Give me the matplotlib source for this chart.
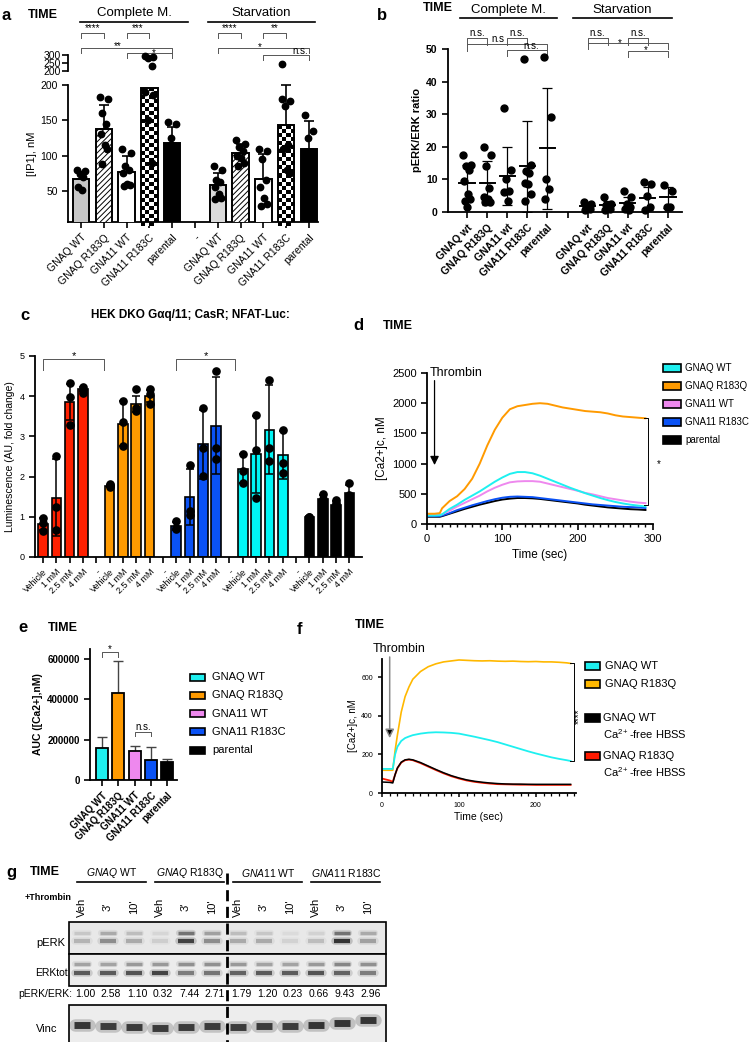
import matplotlib.pyplot as plt
import numpy as np
from matplotlib.patches import Rectangle
from matplotlib.lines import Line2D
from matplotlib.ticker import MultipleLocator

plt.rcParams['font.family'] = ['Liberation Sans', 'DejaVu Sans']
plt.rcParams['mathtext.fontset'] = 'custom'
plt.rcParams['mathtext.rm'] = 'Liberation Sans'
plt.rcParams['mathtext.it'] = 'Liberation Sans:italic'
plt.rcParams['mathtext.bf'] = 'Liberation Sans:bold'
plt.rcParams['hatch.linewidth'] = 0.7
plt.rcParams['axes.linewidth'] = 1.3

# ============================================================================
# DATA
# ============================================================================
# --- a: IP1 ---
a_labels = ['GNAQ WT', 'GNAQ R183Q', 'GNA11 WT', 'GNA11 R183C', 'parental']
a_cm_mean = [67, 138, 77, 196, 118]
a_cm_err = [10, 33, 22, 0, 22]
a_st_mean = [59, 104, 67, 143, 109]
a_st_err = [17, 13, 35, 57, 40]
a_cm_pts = [[80, 78, 74, 70, 56, 52],
            [183, 180, 160, 145, 130, 115, 110, 88],
            [110, 104, 85, 80, 76, 60, 58, 57],
            [190, 186, 150, 90],
            [148, 145, 125]]
a_st_pts = [[85, 80, 65, 62, 55, 45, 40, 38],
            [122, 116, 112, 106, 100, 96, 90, 86],
            [110, 106, 95, 65, 55, 40, 32, 28],
            [180, 178, 170, 115, 110, 80, 76],
            [158, 135, 125]]
a_cm_pts_high = [[], [], [], [292, 290, 282, 232], []]
a_st_pts_high = [[], [], [], [243], []]

# --- b: pERK/ERK ratio ---
b_labels = ['GNAQ wt', 'GNAQ R183Q', 'GNA11 wt', 'GNA11 R183C', 'parental']
b_cm_mean = [9.0, 8.8, 11.0, 14.0, 19.5]
b_cm_sd = [5.5, 6.8, 9.0, 14.0, 18.5]
b_st_mean = [1.8, 2.0, 2.8, 4.2, 4.5]
b_st_sd = [1.2, 1.3, 1.8, 3.5, 3.2]
b_cm_pts = [[17.5, 14.5, 14, 13, 9.5, 5.5, 4, 3.5, 1.5],
            [20, 17.5, 14, 7.5, 4.5, 4, 3, 3],
            [32, 13, 10, 6.5, 6, 3.5],
            [47, 14.5, 12.5, 12, 9, 8.5, 5.5, 3.5],
            [47.5, 29, 10, 7, 4]]
b_st_pts = [[3.2, 2.5, 1.5, 0.8, 0.5],
            [4.5, 2.5, 2, 1, 0.5],
            [6.5, 4.5, 2.5, 1.5, 1, 0.5],
            [9.2, 8.5, 4.8, 1.5, 0.5],
            [8.2, 6.5, 1.5, 1.5]]

# --- c: NFAT luciferase ---
c_doses = ['Vehicle', '1 mM', '2.5 mM', '4 mM']
c_colors = ['#ff2000', '#ff9a00', '#0a52f5', '#00f5f5', '#000000']
c_mean = [[0.83, 1.48, 3.85, 4.17],
          [1.77, 3.32, 3.80, 4.00],
          [0.77, 1.50, 2.80, 3.27],
          [2.20, 2.55, 3.17, 2.53],
          [1.00, 1.45, 1.30, 1.60]]
c_sd = [[0.15, 0.95, 0.45, 0.05],
        [0.03, 0.55, 0.20, 0.15],
        [0.10, 0.70, 0.85, 1.20],
        [0.35, 0.95, 1.10, 0.60],
        [0.02, 0.10, 0.10, 0.20]]
c_pts = [[[0.97, 0.85, 0.65], [2.50, 1.25, 0.68], [4.32, 3.98, 3.28], [4.22, 4.15, 4.08]],
         [[1.82, 1.78, 1.75], [3.88, 3.35, 2.75], [4.17, 3.70, 3.62], [4.18, 4.05, 3.80]],
         [[0.90, 0.72, 0.70], [2.28, 1.15, 1.05], [3.70, 2.70, 2.02], [4.62, 2.72, 2.45]],
         [[2.57, 2.15, 1.85], [3.52, 2.67, 1.48], [4.40, 2.70, 2.40], [3.15, 2.35, 2.10]],
         [[1.00, 1.00, 0.98], [1.57, 1.45, 1.40], [1.42, 1.35, 1.30], [1.85, 1.55, 1.50]]]

# --- d: Ca2+ traces, complete medium ---
d_names = ['GNAQ WT', 'GNAQ R183Q', 'GNA11 WT', 'GNA11 R183C', 'parental']
d_colors = ['#1ef0f0', '#ff9a00', '#ee88ee', '#0a52f5', '#000000']
d_t = [0, 10, 17, 20, 30, 40, 50, 60, 70, 80, 90, 100, 110, 120, 130, 140, 150,
       160, 170, 180, 190, 200, 210, 220, 230, 240, 250, 260, 270, 280, 290]
d_gnaq_wt = [140, 140, 145, 160, 250, 320, 400, 470, 540, 620, 700, 770, 830, 860, 860, 840,
             800, 750, 700, 650, 600, 555, 510, 470, 430, 395, 365, 340, 320, 305, 290]
d_gnaq_mut = [170, 170, 180, 260, 380, 460, 580, 750, 1000, 1300, 1560, 1760, 1900, 1950, 1970,
              1990, 2000, 1990, 1960, 1930, 1910, 1890, 1870, 1860, 1850, 1830, 1800, 1780,
              1770, 1760, 1750]
d_gna11_wt = [150, 150, 150, 160, 220, 290, 350, 410, 470, 540, 600, 650, 690, 705, 710, 710,
              700, 670, 640, 610, 580, 550, 515, 490, 460, 430, 410, 390, 370, 355, 345]
d_gna11_mut = [130, 130, 130, 140, 180, 230, 270, 310, 345, 380, 410, 435, 450, 455, 450, 445,
               430, 415, 400, 385, 370, 355, 340, 325, 315, 305, 295, 285, 280, 275, 265]
d_parental = [120, 120, 120, 130, 170, 210, 250, 285, 320, 350, 380, 405, 420, 430, 430, 425,
              415, 400, 385, 370, 355, 340, 320, 305, 290, 275, 265, 255, 245, 240, 232]

# --- e: AUC ---
e_labels = ['GNAQ WT', 'GNAQ R183Q', 'GNA11 WT', 'GNA11 R183C', 'parental']
e_mean = [160000, 430000, 145000, 100000, 90000]
e_err = [55000, 160000, 23000, 65000, 12000]

# --- f: Ca2+ traces, Ca2+-free HBSS ---
f_names = ['GNAQ WT', 'GNAQ R183Q', 'GNAQ WT\nCa$^{2+}$-free HBSS', 'GNAQ R183Q\nCa$^{2+}$-free HBSS']
f_colors = ['#1ef0f0', '#ffb800', '#000000', '#ff1a00']
f_t = [0, 10, 14, 17, 20, 25, 30, 35, 40, 50, 60, 70, 80, 90, 100, 110, 120, 130, 140, 150,
       160, 170, 180, 190, 200, 210, 220, 230, 240, 245]
f_wt = [125, 125, 125, 200, 240, 270, 285, 293, 300, 308, 313, 315, 314, 312, 308, 300, 292,
        283, 274, 264, 252, 240, 228, 216, 205, 195, 185, 177, 170, 166]
f_mut = [118, 118, 118, 220, 300, 420, 500, 550, 590, 630, 655, 670, 680, 685, 690, 688, 686,
         685, 686, 684, 683, 684, 682, 681, 682, 680, 680, 678, 675, 672]
f_wt_free = [57, 55, 52, 95, 130, 160, 172, 175, 172, 158, 140, 122, 105, 90, 78, 68, 61, 56,
             52, 49, 47, 46, 46, 45, 45, 45, 45, 45, 45, 45]
f_mut_free = [75, 65, 58, 95, 128, 158, 170, 173, 170, 155, 137, 119, 102, 87, 75, 65, 58, 53,
              49, 46, 45, 44, 43, 43, 42, 42, 42, 42, 42, 42]

# --- g: western blot ---
g_groups = [r'$\mathit{GNAQ}$ WT', r'$\mathit{GNAQ}$ R183Q', r'$\mathit{GNA11}$ WT', r'$\mathit{GNA11}$ R183C']
g_lanes = ['Veh', "3'", "10'"] * 4
g_ratio = [1.00, 2.58, 1.10, 0.32, 7.44, 2.71, 1.79, 1.20, 0.23, 0.66, 9.43, 2.96]
g_perk_low = [0.25, 0.45, 0.30, 0.12, 0.90, 0.45, 0.30, 0.30, 0.10, 0.20, 1.00, 0.35]
g_perk_up = [0.15, 0.30, 0.20, 0.08, 0.60, 0.35, 0.20, 0.15, 0.06, 0.10, 0.60, 0.30]
g_erk_up = [0.35, 0.35, 0.40, 0.40, 0.45, 0.45, 0.40, 0.35, 0.35, 0.40, 0.50, 0.45]
g_erk_low = [0.75, 0.75, 0.80, 0.90, 0.55, 0.60, 0.70, 0.75, 0.75, 0.80, 0.70, 0.55]
g_vinc = [1.0, 0.95, 0.95, 0.95, 0.95, 0.95, 0.95, 0.95, 0.95, 1.0, 1.0, 1.0]
g_vinc_y = [1025, 1026, 1027, 1028, 1027, 1026, 1027, 1026, 1026, 1025, 1023, 1020]

# ============================================================================
# FIGURE / HELPERS (pixel layout, 754x1042)
# ============================================================================
W, H = 754, 1042
fig = plt.figure(figsize=(W / 100, H / 100), dpi=100)
fig.patch.set_facecolor('white')


def add_ax(x0, y0, x1, y1):
    return fig.add_axes([x0 / W, 1 - y1 / H, (x1 - x0) / W, (y1 - y0) / H])


def ftext(x, y, s, **kw):
    kw.setdefault('va', 'center')
    return fig.text(x / W, 1 - y / H, s, **kw)


def fline(x0, x1, y, lw=1.2):
    fig.add_artist(Line2D([x0 / W, x1 / W], [1 - y / H, 1 - y / H], color='black', lw=lw))


def fpatch(x, y, w, h, color):
    fig.add_artist(Rectangle((x / W, 1 - (y + h / 2) / H), w / W, h / H,
                             transform=fig.transFigure, fc=color, ec='black', lw=1.2))


def bracket(ax, x0, x1, y, label, drop=0.035, tx=None, fs=7, dy=0.0, color='#555555'):
    tr = ax.get_xaxis_transform()
    ax.plot([x0, x0, x1, x1], [y - drop, y, y, y - drop], transform=tr,
            color=color, lw=0.7, clip_on=False)
    tx = (x0 + x1) / 2 if tx is None else tx
    ax.text(tx, y + dy, label, transform=tr, ha='center', va='bottom',
            fontsize=fs, clip_on=False)


def style_axes(ax, fs=7.5, bold=False):
    ax.spines['top'].set_visible(False)
    ax.spines['right'].set_visible(False)
    ax.tick_params(axis='both', direction='out', length=4, width=1.2, labelsize=fs)
    if bold:
        for t in ax.get_yticklabels():
            t.set_fontweight('bold')


offs = [-0.18, 0.18, -0.06, 0.1, -0.14, 0.04, 0.16, -0.1, 0.0]

# ============================================================================
# PANEL a
# ============================================================================
ax_a = add_ax(68, 85, 318, 222)
ax_a2 = add_ax(68, 55, 318, 71)
a_xlim = (-0.57, 10.4)
a_fill = [['#c6c6c6', 'white', 'white', 'none', 'black'],
          ['#dadada', 'white', 'white', 'none', 'black']]
a_hatch = [None, '//////', None, None, None]
px_per_unit = 137 / 194.0
for gi, (means, errs, pts, high, start) in enumerate(
        [(a_cm_mean, a_cm_err, a_cm_pts, a_cm_pts_high, 0),
         (a_st_mean, a_st_err, a_st_pts, a_st_pts_high, 6)]):
    for i in range(5):
        p = start + i
        bar = ax_a.bar(p, means[i], width=0.72, color=a_fill[gi][i], edgecolor='black',
                       linewidth=1.4, hatch=a_hatch[i], zorder=3)[0]
        if i == 3:
            ny = int(round(means[i] * px_per_unit / 4.0))
            chk = np.add.outer(np.arange(ny), np.arange(4)) % 2
            im = ax_a.imshow(chk, cmap='gray', extent=(p - 0.36, p + 0.36, 0, means[i]),
                             origin='lower', aspect='auto', interpolation='nearest', zorder=2)
            im.set_clip_path(bar)
        if errs[i] > 0:
            ax_a.errorbar(p, means[i], yerr=[[0], [errs[i]]], fmt='none', ecolor='black',
                          elinewidth=1.2, capsize=3.5, capthick=1.2, zorder=4, clip_on=False)
        ax_a.plot(p + np.array(offs[:len(pts[i])]), pts[i], 'o', color='black', ms=4.6,
                  zorder=5, clip_on=False)
        if high[i]:
            ax_a2.plot(p + np.array(offs[:len(high[i])]), high[i], 'o', color='black', ms=4.6,
                       zorder=5, clip_on=False)
ax_a.set_xlim(*a_xlim)
ax_a.set_ylim(6, 200)
ax_a.set_yticks([50, 100, 150, 200])
ax_a.set_xticks(range(11))
ax_a.set_xticklabels(a_labels + ['-'] + a_labels, rotation=45, ha='right',
                     rotation_mode='anchor', fontsize=7.5)
ax_a.set_ylabel('[IP1], nM', fontsize=8, labelpad=2)
style_axes(ax_a)
ax_a2.set_xlim(*a_xlim)
ax_a2.set_ylim(200, 300)
ax_a2.set_yticks([200, 250, 300])
ax_a2.set_xticks([])
for s in ['top', 'right', 'bottom']:
    ax_a2.spines[s].set_visible(False)
ax_a2.tick_params(axis='y', length=4, width=1.2, labelsize=7.5, pad=1)
ax_a2.patch.set_alpha(0)

bracket(ax_a, 0, 1, 1.38, '****')
bracket(ax_a, 2, 3, 1.38, '***')
bracket(ax_a, 0, 4, 1.27, '**', tx=1.6, dy=-0.02)
bracket(ax_a, 2, 4, 1.23, '*', tx=3.2, dy=-0.03)
bracket(ax_a, 6, 7, 1.38, '****')
bracket(ax_a, 8, 9, 1.38, '**')
bracket(ax_a, 6, 10, 1.27, '*', tx=7.85, dy=-0.03)
bracket(ax_a, 8, 10, 1.22, 'n.s.', tx=9.6, dy=-0.01)

ftext(2, 15, 'a', fontsize=12, fontweight='bold')
ftext(28, 15, 'TIME', fontsize=9, fontweight='bold')
ftext(134, 13, 'Complete M.', fontsize=9.5, ha='center')
fline(80, 188, 22)
ftext(261, 13, 'Starvation', fontsize=9.5, ha='center')
fline(208, 315, 22)

# ============================================================================
# PANEL b
# ============================================================================
ax_b = add_ax(448, 49, 682, 212)
for means, sds, pts, start in [(b_cm_mean, b_cm_sd, b_cm_pts, 0),
                               (b_st_mean, b_st_sd, b_st_pts, 6)]:
    for i in range(5):
        p = start + i
        ax_b.plot(p + np.array(offs[:len(pts[i])]), pts[i], 'o', color='black', ms=5,
                  zorder=3, clip_on=False)
        ax_b.plot([p - 0.38, p + 0.38], [means[i], means[i]], color='black', lw=1.4, zorder=4)
        lo = max(means[i] - sds[i], 0)
        ax_b.errorbar(p, means[i], yerr=[[means[i] - lo], [sds[i]]], fmt='none',
                      ecolor='black', elinewidth=0.9, capsize=3.5, capthick=0.9, zorder=4)
ax_b.set_xlim(-0.95, 10.7)
ax_b.set_ylim(0, 50)
ax_b.set_yticks(range(0, 51, 10))
ax_b.set_xticks(range(11))
ax_b.set_xticklabels(b_labels + [''] + b_labels, rotation=45, ha='right',
                     rotation_mode='anchor', fontsize=7.5, fontweight='bold')
ax_b.set_ylabel('pERK/ERK ratio', fontsize=8, fontweight='bold', labelpad=3)
style_axes(ax_b, bold=True)

bracket(ax_b, 0, 1, 1.067, 'n.s.', drop=0.04)
bracket(ax_b, 2, 3, 1.067, 'n.s.', drop=0.04)
bracket(ax_b, 0, 4, 1.03, 'n.s', tx=1.55, drop=0.04, dy=0.0)
bracket(ax_b, 2, 4, 0.995, 'n.s.', tx=3.2, drop=0.04, dy=-0.01)
bracket(ax_b, 6, 7, 1.067, 'n.s.', drop=0.04)
bracket(ax_b, 8, 9, 1.067, 'n.s.', drop=0.04)
bracket(ax_b, 6, 10, 1.037, '*', tx=7.6, drop=0.04, dy=-0.03)
bracket(ax_b, 8, 10, 0.99, '*', tx=8.9, drop=0.04, dy=-0.03)

ftext(377, 15, 'b', fontsize=12, fontweight='bold')
ftext(423, 8, 'TIME', fontsize=9, fontweight='bold')
ftext(508, 10, 'Complete M.', fontsize=9.5, ha='center')
fline(460, 557, 18)
ftext(622, 10, 'Starvation', fontsize=9.5, ha='center')
fline(573, 672, 18)

# ============================================================================
# PANEL c
# ============================================================================
ax_c = add_ax(35, 356, 362, 557)
c_ticks, c_ticklabels = [], []
for g in range(5):
    for j in range(4):
        p = g * 5 + j
        ax_c.bar(p, c_mean[g][j], width=0.72, color=c_colors[g], edgecolor='black',
                 linewidth=1.2, zorder=2)
        ax_c.errorbar(p, c_mean[g][j], yerr=c_sd[g][j], fmt='none', ecolor='black',
                      elinewidth=1.1, capsize=3, capthick=1.1, zorder=3)
        ax_c.plot(p + np.array([0.0, 0.0, 0.0]), c_pts[g][j], 'o', color='black', ms=5.2,
                  zorder=4, clip_on=False)
        c_ticks.append(p)
        c_ticklabels.append(c_doses[j])
    if g < 4:
        c_ticks.append(g * 5 + 4)
        c_ticklabels.append('-')
ax_c.set_xlim(-0.6, 23.95)
ax_c.set_ylim(0, 5)
ax_c.set_yticks(range(6))
ax_c.set_xticks(c_ticks)
ax_c.set_xticklabels(c_ticklabels, rotation=45, ha='right', rotation_mode='anchor',
                     fontsize=6.5)
ax_c.set_ylabel('Luminescence (AU, fold change)', fontsize=7.5, labelpad=3)
style_axes(ax_c, fs=6.5)
bracket(ax_c, 0, 4.6, 0.985, '*', drop=0.055, fs=8, dy=-0.01)
bracket(ax_c, 10, 14.4, 0.985, '*', drop=0.055, fs=8, dy=-0.01)

ftext(20, 315, 'c', fontsize=12, fontweight='bold')
ftext(190, 315, 'HEK DKO G\u03b1q/11; CasR; NFAT-Luc:', fontsize=8.5, fontweight='bold',
      ha='center')

# ============================================================================
# PANEL d
# ============================================================================
ax_d = add_ax(427, 373, 653, 524)
for y, c in zip([d_parental, d_gna11_mut, d_gna11_wt, d_gnaq_wt, d_gnaq_mut],
                [d_colors[4], d_colors[3], d_colors[2], d_colors[0], d_colors[1]]):
    ax_d.plot(d_t, y, color=c, lw=1.4)
ax_d.set_xlim(0, 300)
ax_d.set_ylim(0, 2500)
ax_d.set_xticks([0, 100, 200, 300])
ax_d.xaxis.set_minor_locator(MultipleLocator(10))
ax_d.set_yticks(range(0, 2501, 500))
style_axes(ax_d, fs=8)
ax_d.tick_params(axis='x', which='minor', length=2.5, width=1)
ax_d.set_xlabel('Time (sec)', fontsize=8.5, labelpad=3)
ax_d.set_ylabel('[Ca2+]c, nM', fontsize=8.5, labelpad=3)
ax_d.annotate('', xy=(10, 930), xytext=(10, 2420),
              arrowprops=dict(arrowstyle='-|>', color='black', lw=0.9, mutation_scale=13))
ax_d.text(3, 2500, 'Thrombin', fontsize=9, ha='left', va='center')
ax_d.plot([288, 294, 294, 288], [d_gnaq_mut[-1], d_gnaq_mut[-1], d_gna11_wt[-1] - 30,
                                 d_gna11_wt[-1] - 30], color='black', lw=0.7, clip_on=False)
ax_d.text(307, 1000, '*', fontsize=7, ha='center', va='center')
for k, (n, c) in enumerate(zip(d_names, d_colors)):
    y = 368 + 18 * k
    fpatch(663, y, 18, 8, c)
    ftext(685, y, n, fontsize=7)

ftext(353, 325, 'd', fontsize=12, fontweight='bold')
ftext(383, 326, 'TIME', fontsize=9, fontweight='bold')

# ============================================================================
# PANEL e
# ============================================================================
ax_e = add_ax(90, 649, 177, 780)
for i in range(5):
    ax_e.bar(i, e_mean[i], width=0.72, color=d_colors[i], edgecolor='black',
             linewidth=1.3, zorder=2)
    ax_e.errorbar(i, e_mean[i], yerr=[[0], [e_err[i]]], fmt='none', ecolor='#444444',
                  elinewidth=1.0, capsize=3.5, capthick=1.0, zorder=1)
ax_e.set_xlim(-0.74, 4.6)
ax_e.set_ylim(0, 650000)
ax_e.set_yticks([0, 200000, 400000, 600000])
ax_e.set_xticks(range(5))
ax_e.set_xticklabels(e_labels, rotation=45, ha='right', rotation_mode='anchor',
                     fontsize=7, fontweight='bold')
ax_e.set_ylabel('AUC ([Ca2+],nM)', fontsize=7.5, fontweight='bold', labelpad=3)
style_axes(ax_e, fs=7, bold=True)
bracket(ax_e, 0, 1, 0.975, '*', drop=0.035, fs=7, dy=-0.01)
bracket(ax_e, 2, 3, 0.37, 'n.s.', drop=0.035, fs=7, dy=0.0)
for k, (n, c) in enumerate(zip(d_names, d_colors)):
    y = 677 + 18.3 * k
    fpatch(190, y, 15, 7, c)
    ftext(212, y, n, fontsize=8)

ftext(18, 628, 'e', fontsize=12, fontweight='bold')
ftext(48, 628, 'TIME', fontsize=9, fontweight='bold')

# ============================================================================
# PANEL f
# ============================================================================
ax_f = add_ax(382, 659, 576, 793)
ax_f.plot(f_t, f_mut_free, color=f_colors[3], lw=1.3)
ax_f.plot(f_t, f_wt_free, color=f_colors[2], lw=1.1)
ax_f.plot(f_t, f_mut, color=f_colors[1], lw=1.2)
ax_f.plot(f_t, f_wt, color=f_colors[0], lw=1.3)
ax_f.set_xlim(0, 252)
ax_f.set_ylim(0, 695)
ax_f.set_xticks([0, 100, 200])
ax_f.xaxis.set_minor_locator(MultipleLocator(10))
ax_f.set_yticks([0, 200, 400, 600])
style_axes(ax_f, fs=5)
ax_f.tick_params(axis='both', length=3, width=1.1)
ax_f.tick_params(axis='x', which='minor', length=2, width=0.9)
ax_f.set_xlabel('Time (sec)', fontsize=7.5, labelpad=2)
ax_f.set_ylabel('[Ca2+]c, nM', fontsize=7, labelpad=2)
ax_f.annotate('', xy=(10, 270), xytext=(10, 720),
              arrowprops=dict(arrowstyle='-|>', ec='#888888', fc='black', lw=1.1,
                              mutation_scale=13), annotation_clip=False)
ax_f.text(-12, 745, 'Thrombin', fontsize=9, ha='left', va='center')
ax_f.plot([244, 249, 249, 244], [f_mut[-1], f_mut[-1], f_wt[-1], f_wt[-1]],
          color='black', lw=0.7, clip_on=False)
ax_f.text(256, 400, '****', fontsize=7, rotation=90, ha='center', va='center')
f_rows = [666, 684, 718, 756]
for k, (n, c) in enumerate(zip(f_names, f_colors)):
    fpatch(585, f_rows[k], 15, 8, c)
    if '\n' in n:
        ftext(603, f_rows[k] - 5, n, fontsize=8, va='top', linespacing=1.35)
    else:
        ftext(605, f_rows[k], n, fontsize=8)

ftext(297, 630, 'f', fontsize=12, fontweight='bold')
ftext(355, 625, 'TIME', fontsize=9, fontweight='bold')

# ============================================================================
# PANEL g (western blot)
# ============================================================================
ax_g = add_ax(0, 860, 754, 1042)
ax_g.set_xlim((0 - 82) / 26, (754 - 82) / 26)
ax_g.set_ylim(1042, 860)
ax_g.axis('off')
ax_g.add_patch(Rectangle((-0.5, 922), 12.2, 32, fc='#e8e8e8', ec='black', lw=1.2))
ax_g.add_patch(Rectangle((-0.5, 954), 12.2, 32, fc='#ececec', ec='black', lw=1.2))
ax_g.add_patch(Rectangle((-0.5, 1005), 12.2, 45, fc='#ededed', ec='black', lw=1.2))


def band(x, y, val, lw):
    ax_g.plot([x - 0.28, x + 0.28], [y, y], color='#111111', lw=lw * 1.8,
              alpha=0.2 * val, solid_capstyle='round')
    ax_g.plot([x - 0.3, x + 0.3], [y, y], color='#111111', lw=lw,
              alpha=0.8 * val, solid_capstyle='butt')


for i in range(12):
    band(i, 933, g_perk_up[i], 2.5)
    band(i, 941, g_perk_low[i], 3.0)
    band(i, 964, g_erk_up[i], 2.5)
    band(i, 973, g_erk_low[i], 3.0)
    band(i, g_vinc_y[i], g_vinc[i], 5.0)
    ax_g.text(i, 907, g_lanes[i], rotation=90, ha='center', va='center', fontsize=8)
    ax_g.text(i + 0.12, 994, f'{g_ratio[i]:.2f}', ha='center', va='center', fontsize=7.5)
for g in range(4):
    ax_g.text(3 * g + 1.15, 873, g_groups[g], ha='center', va='center', fontsize=7.5)
    ax_g.plot([3 * g - 0.2, 3 * g + 2.45], [882, 882], color='black', lw=1.2)
ax_g.plot([5.58, 5.58], [873, 1042], color='black', lw=2, ls=(0, (4, 2)))
ax_g.text(-0.38, 994, 'pERK/ERK:', ha='right', va='center', fontsize=7.5)
ax_g.text(-0.65, 943, 'pERK', ha='right', va='center', fontsize=8)
ax_g.text(-0.56, 973, 'ERKtot', ha='right', va='center', fontsize=7.5)
ax_g.text(-0.95, 1029, 'Vinc', ha='right', va='center', fontsize=8)

ftext(6, 872, 'g', fontsize=12, fontweight='bold')
ftext(30, 872, 'TIME', fontsize=9, fontweight='bold')
ftext(25, 898, '+Thrombin', fontsize=6.5, fontweight='bold')

fig.savefig('out.png', dpi=100, facecolor='white')
